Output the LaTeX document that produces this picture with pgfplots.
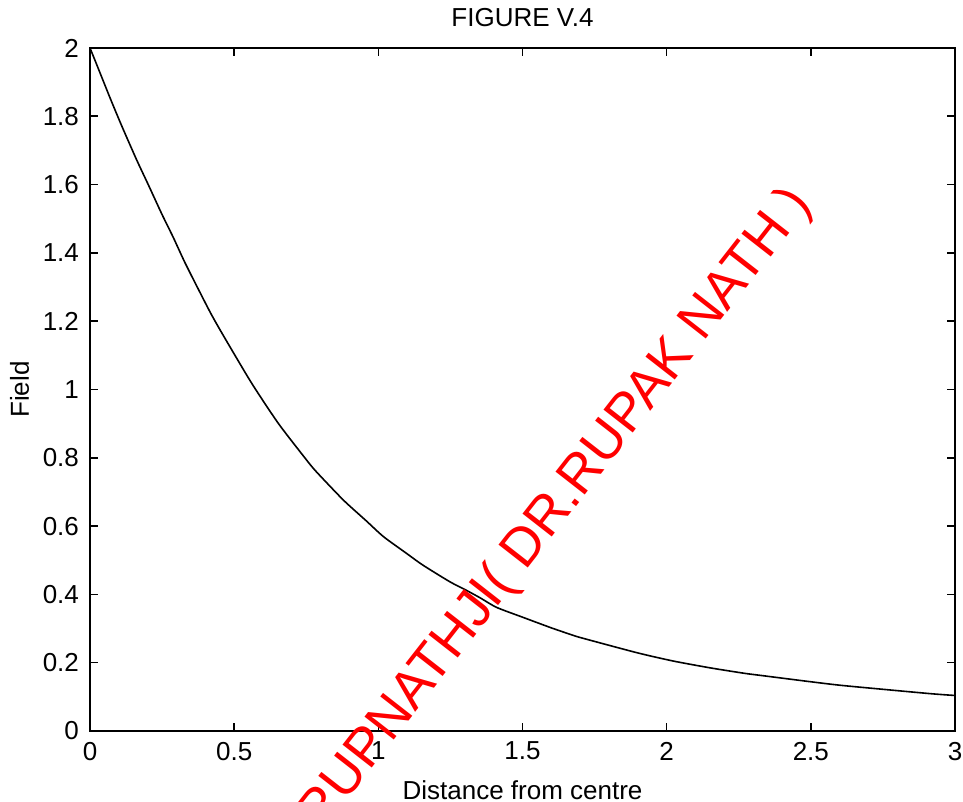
\documentclass[border=0pt]{standalone}
\usepackage{pgfplots}
\pgfplotsset{compat=1.18}
\usepackage{fontspec}
\setmainfont{Liberation Sans}

\begin{document}
\begin{tikzpicture}
\begin{axis}[
    at={(0,0)}, anchor=south west,
    scale only axis,
    width=432.5pt, height=341.5pt,
    xmin=0, xmax=3,
    ymin=0, ymax=2,
    xtick={0,0.5,1,1.5,2,2.5,3},
    ytick={0,0.2,0.4,0.6,0.8,1,1.2,1.4,1.6,1.8,2},
    tick align=inside,
    major tick length=4pt,
    axis line style={line width=1pt},
    every tick/.style={black, line width=0.8pt},
    /pgf/number format/assume math mode=true,
    tick label style={font=\fontsize{13}{15}\selectfont},
    xticklabel style={yshift=-2pt},
    yticklabel style={xshift=-2pt},
    title={FIGURE V.4},
    title style={font=\fontsize{13}{15}\selectfont, yshift=1pt},
    xlabel={Distance from centre},
    ylabel={Field},
    label style={font=\fontsize{13}{15}\selectfont},
    xlabel style={yshift=-3pt},
    ylabel style={yshift=0pt},
    clip=false,
]
\addplot[black, line width=0.8pt, smooth, tension=0.4] coordinates {
    (0,2.000) (0.023,1.952) (0.069,1.855) (0.110,1.772) (0.162,1.672)
    (0.202,1.600) (0.249,1.514) (0.289,1.445) (0.329,1.372) (0.381,1.285)
    (0.422,1.218) (0.468,1.150) (0.561,1.018) (0.653,0.901)
    (0.746,0.799) (0.783,0.761) (0.879,0.676) (0.956,0.617) (1.018,0.569)
    (1.098,0.520) (1.154,0.486) (1.248,0.437) (1.303,0.413) (1.353,0.390)
    (1.410,0.362) (1.501,0.333) (1.600,0.302) (1.676,0.280) (1.712,0.271)
    (1.898,0.229) (2.022,0.205) (2.150,0.185) (2.269,0.169) (2.324,0.163)
    (2.492,0.145) (2.601,0.134) (2.751,0.122) (2.919,0.109) (3.000,0.104)
};
\coordinate (wm) at (axis cs:1.615,0.647);
\end{axis}
\node[rotate=52, text=red, inner sep=0pt,
      font=\fontsize{27}{32}\selectfont] at (wm) {RUPNATHJI( DR.RUPAK NATH )};
\pgfresetboundingbox
\path[use as bounding box] (-45pt,-35.5pt) rectangle (436.5pt,365.5pt);
\end{tikzpicture}
\end{document}
